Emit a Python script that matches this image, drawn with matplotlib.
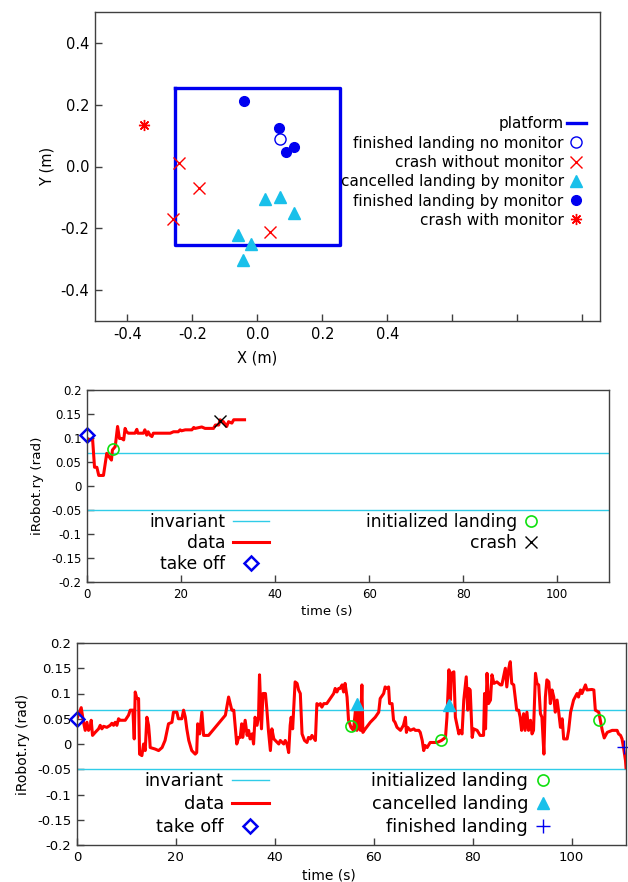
import matplotlib
matplotlib.use("Agg")
import matplotlib.pyplot as plt
from matplotlib.ticker import FixedLocator, FixedFormatter

plt.rcParams["font.family"] = ["DejaVu Sans"]
plt.rcParams["axes.unicode_minus"] = False

# ---- panel 1: landing positions (m) ----
platform_x = [-0.255, 0.255, 0.255, -0.255, -0.255]
platform_y = [0.255, 0.255, -0.255, -0.255, 0.255]
fin_nomon_x = [0.070]
fin_nomon_y = [0.089]
crash_nomon_x = [-0.240, -0.181, -0.261, 0.040]
crash_nomon_y = [0.011, -0.071, -0.171, -0.212]
cancel_mon_x = [0.023, 0.071, 0.112, -0.059, -0.020, -0.044]
cancel_mon_y = [-0.106, -0.100, -0.149, -0.221, -0.252, -0.301]
fin_mon_x = [-0.041, 0.067, 0.088, 0.112]
fin_mon_y = [0.211, 0.123, 0.047, 0.062]
crash_mon_x = [-0.348]
crash_mon_y = [0.133]

# ---- panel 2: run without monitor ----
inv_hi = 0.068
inv_lo = -0.05
t1 = [0.0, 0.3, 1.2, 1.6, 2.1, 2.5, 3.5, 4.2, 4.7, 5.2, 5.4, 6.0, 6.5, 6.9,
      7.4, 7.8, 8.1, 8.4, 8.8, 10.2, 10.6, 10.8, 12.0, 12.3, 12.7, 13.0, 13.4,
      13.8, 14.1, 14.8, 16.6, 17.7, 18.4, 19.4, 19.8, 20.1, 20.9, 22.3, 22.7,
      23.0, 24.4, 25.1, 26.9, 27.3, 28.0, 28.3, 29.0, 29.7, 30.1, 30.8, 31.2,
      32.2, 33.5]
y1 = [0.100, 0.096, 0.096, 0.039, 0.039, 0.022, 0.022, 0.068, 0.061, 0.054,
      0.075, 0.082, 0.124, 0.099, 0.099, 0.096, 0.120, 0.113, 0.110, 0.110,
      0.118, 0.110, 0.110, 0.117, 0.106, 0.113, 0.106, 0.103, 0.110, 0.110,
      0.110, 0.110, 0.113, 0.113, 0.117, 0.115, 0.117, 0.117, 0.122, 0.120,
      0.123, 0.120, 0.120, 0.127, 0.127, 0.138, 0.134, 0.124, 0.134, 0.131,
      0.138, 0.138, 0.138]
takeoff1 = (0.0, 0.106)
init1 = (5.6, 0.077)
crash1 = (28.3, 0.135)

# ---- panel 3: run with monitor ----
t2 = [0.0, 0.85, 1.32, 1.66, 2.0, 2.33, 2.67, 2.87, 3.14, 3.68, 4.36, 4.69,
      5.03, 5.37, 6.04, 6.71, 7.05, 7.39, 7.73, 8.06, 8.40, 8.74, 9.75, 10.42,
      10.76, 11.3, 11.57, 11.77, 12.1, 12.45, 12.65, 13.12, 13.46, 13.79,
      14.13, 14.47, 14.67, 14.8, 15.8, 16.5, 17.2, 17.8, 18.5, 19.2, 19.5,
      20.2, 20.5, 21.2, 21.55, 21.9, 22.2, 22.6, 23.2, 23.9, 24.2, 24.4, 24.8,
      25.25, 25.6, 26.6, 30.0, 30.65, 31.3, 31.7, 32.0, 32.3, 32.7, 33.0,
      33.3, 33.5, 34.0, 34.4, 34.7, 35.0, 35.4, 35.7, 36.0, 36.4, 36.7, 36.9,
      37.3, 37.6, 38.1, 38.4, 38.7, 39.1, 39.4, 39.8, 40.1, 40.8, 41.1, 41.8,
      42.1, 42.45, 42.8, 43.1, 43.3, 43.6, 44.1, 44.5, 44.8, 45.15, 45.5,
      46.0, 46.5, 46.8, 47.2, 47.5, 48.2, 48.5, 48.9, 49.2, 49.5, 49.9, 50.5,
      51.2, 51.9, 52.2, 52.55, 52.9, 53.2, 53.6, 53.9, 54.2, 54.6, 54.9, 55.4,
      55.9, 56.3, 56.6, 56.9, 57.3, 57.6, 57.8, 58.3, 59.3, 60.3, 61.0, 61.3,
      62.0, 62.3, 62.7, 63.0, 63.2, 63.7, 64.0, 64.3, 64.7, 65.4, 66.0, 66.4,
      66.6, 66.85, 67.4, 68.1, 68.4, 69.1, 69.4, 69.8, 70.1, 70.4, 70.8, 71.4,
      72.8, 73.7, 74.5, 74.8, 75.2, 75.5, 75.7, 76.2, 76.5, 77.2, 77.5, 77.85,
      78.2, 78.7, 79.0, 79.2, 79.5, 79.9, 80.2, 80.9, 81.5, 82.2, 82.4, 82.6,
      82.9, 83.2, 83.6, 83.9, 84.3, 84.9, 85.6, 85.9, 86.6, 86.9, 87.3, 87.6,
      87.9, 88.3, 88.9, 89.3, 89.6, 89.9, 90.3, 90.6, 90.97, 91.3, 91.7, 92.0,
      92.3, 92.7, 93.0, 93.35, 93.7, 94.0, 94.4, 94.7, 95.0, 95.4, 95.7, 96.05,
      96.4, 96.7, 97.07, 97.4, 97.75, 98.1, 98.4, 99.1, 99.4, 99.8, 100.4,
      101.1, 101.4, 101.8, 102.1, 102.8, 103.1, 104.1, 104.5, 104.8, 105.5,
      106.2, 106.6, 107.2, 108.2, 109.2, 109.5, 109.9, 110.2, 110.5, 110.9,
      111.0]
y2 = [0.050, 0.072, 0.043, 0.027, 0.043, 0.027, 0.033, 0.047, 0.017, 0.023,
      0.030, 0.037, 0.030, 0.035, 0.033, 0.037, 0.041, 0.037, 0.043, 0.037,
      0.050, 0.047, 0.047, 0.057, 0.067, 0.067, 0.010, 0.103, 0.090, 0.090,
      -0.020, -0.023, 0.000, -0.013, 0.053, 0.037, 0.013, -0.007, -0.010,
      -0.013, -0.007, 0.007, 0.040, 0.043, 0.063, 0.063, 0.050, 0.050, 0.067,
      0.053, 0.030, 0.007, -0.013, -0.020, -0.017, 0.040, 0.020, 0.063, 0.017,
      0.017, 0.057, 0.093, 0.067, 0.067, 0.033, 0.000, 0.013, 0.013, 0.040,
      0.013, 0.047, 0.017, 0.027, 0.010, 0.020, 0.000, 0.053, 0.037, 0.053,
      0.137, 0.030, 0.100, 0.100, 0.067, 0.027, -0.013, 0.030, 0.010, 0.007,
      0.000, 0.007, 0.000, 0.007, 0.000, -0.017, 0.037, 0.053, 0.030, 0.123,
      0.120, 0.107, 0.100, 0.020, 0.007, 0.003, 0.013, 0.010, 0.017, 0.007,
      0.080, 0.077, 0.080, 0.073, 0.080, 0.080, 0.090, 0.100, 0.110, 0.103,
      0.110, 0.110, 0.117, 0.103, 0.120, 0.093, 0.047, 0.033, 0.027, 0.067,
      0.027, 0.067, 0.027, 0.117, 0.023, 0.030, 0.043, 0.053, 0.063, 0.090,
      0.100, 0.113, 0.110, 0.113, 0.080, 0.080, 0.047, 0.043, 0.033, 0.027,
      0.037, 0.053, 0.023, 0.033, 0.027, 0.030, 0.027, 0.027, 0.023, 0.007,
      -0.013, -0.003, -0.007, 0.003, 0.003, 0.007, 0.013, 0.053, 0.147, 0.087,
      0.140, 0.143, 0.053, 0.020, 0.027, 0.020, 0.087, 0.133, 0.067, 0.110,
      0.107, 0.013, 0.030, 0.027, 0.017, 0.017, 0.100, 0.030, 0.140, 0.080,
      0.087, 0.137, 0.120, 0.123, 0.117, 0.117, 0.150, 0.113, 0.150, 0.163,
      0.120, 0.117, 0.067, 0.067, 0.053, 0.027, 0.060, 0.027, 0.063, 0.027,
      0.047, 0.020, 0.027, 0.140, 0.120, 0.117, 0.060, 0.053, -0.020, 0.093,
      0.127, 0.123, 0.080, 0.107, 0.093, 0.063, 0.087, 0.063, 0.033, 0.050,
      0.010, 0.010, 0.027, 0.063, 0.087, 0.100, 0.093, 0.107, 0.100, 0.117,
      0.107, 0.108, 0.107, 0.067, 0.063, 0.027, 0.012, 0.023, 0.027, 0.027,
      0.020, 0.017, 0.010, -0.007, -0.033, -0.047]
takeoff2 = (0.0, 0.050)
init2_t = [55.4, 73.6, 105.6]
init2_y = [0.036, 0.008, 0.048]
cancel2_t = [56.6, 75.2]
cancel2_y = [0.080, 0.078]
finish2 = (110.6, -0.006)

ry_ticks = [-0.2, -0.15, -0.1, -0.05, 0, 0.05, 0.1, 0.15, 0.2]
ry_labels = ["-0.2", "-0.15", "-0.1", "-0.05", "0", "0.05", "0.1", "0.15", "0.2"]
t_ticks = [0, 20, 40, 60, 80, 100]

BLUE = "#0000f0"
RED = "#ff0000"
CYAN = "#19c0ea"
INV = "#30cce8"
GREEN = "#10e010"
FRAME = "#404040"

W, H = 628, 882
fig = plt.figure(figsize=(W / 100, H / 100), dpi=100)


def box(l, t, r, b):
    return fig.add_axes([l / W, 1 - b / H, (r - l) / W, (b - t) / H])


def style(ax, fs):
    for s in ax.spines.values():
        s.set_color(FRAME)
        s.set_linewidth(1.0)
    ax.tick_params(direction="in", length=5, width=1, color=FRAME,
                   labelsize=fs, top=False, right=False, pad=4)


# ---------- panel 1 ----------
ax1 = box(95, 12, 600, 321)
style(ax1, 10.5)
ax1.plot(platform_x, platform_y, color=BLUE, lw=2.4, label="platform")
ax1.plot(fin_nomon_x, fin_nomon_y, ls="none", marker="o", ms=8, mfc="none",
         mec=BLUE, mew=1.0, label="finished landing no monitor")
ax1.plot(crash_nomon_x, crash_nomon_y, ls="none", marker="x", ms=8, mec=RED,
         mew=1.0, label="crash without monitor")
ax1.plot(cancel_mon_x, cancel_mon_y, ls="none", marker="^", ms=8, color=CYAN,
         label="cancelled landing by monitor")
ax1.plot(fin_mon_x, fin_mon_y, ls="none", marker="o", ms=7, color=BLUE,
         label="finished landing by monitor")
ax1.plot(crash_mon_x, crash_mon_y, ls="none", marker=(8, 2, 0), ms=8, mec=RED,
         mew=1.0, label="crash with monitor")
ax1.set_xlim(-0.5, 1.055)
ax1.set_ylim(-0.5, 0.5)
xt = [-0.4, -0.2, 0.0, 0.2, 0.4, 0.6, 0.8, 1.0]
ax1.xaxis.set_major_locator(FixedLocator(xt))
ax1.xaxis.set_major_formatter(FixedFormatter(["-0.4", "-0.2", "0.0", "0.2", "0.4", "", "", ""]))
ax1.yaxis.set_major_locator(FixedLocator([-0.4, -0.2, 0.0, 0.2, 0.4]))
ax1.yaxis.set_major_formatter(FixedFormatter(["-0.4", "-0.2", "0.0", "0.2", "0.4"]))
ax1.text(0.0, -0.62, "X (m)", ha="center", va="center", fontsize=10.5,
         transform=ax1.transData, clip_on=False)
ax1.set_ylabel("Y (m)", fontsize=10.5, labelpad=4)
ax1.legend(loc="upper right", bbox_to_anchor=(0.972, 0.662), frameon=False,
           markerfirst=False, alignment="right", fontsize=11, borderpad=0,
           borderaxespad=0, handlelength=1.25, handletextpad=0.2,
           labelspacing=0.28, numpoints=1)


def ry_axes(ax, fs_tick, fs_lab):
    style(ax, fs_tick)
    ax.axhline(inv_hi, color=INV, lw=1.0, label="invariant")
    ax.axhline(inv_lo, color=INV, lw=1.0)
    ax.set_xlim(0, 111)
    ax.set_ylim(-0.2, 0.2)
    ax.yaxis.set_major_locator(FixedLocator(ry_ticks))
    ax.yaxis.set_major_formatter(FixedFormatter(ry_labels))
    ax.xaxis.set_major_locator(FixedLocator(t_ticks))
    ax.set_ylabel("iRobot.ry (rad)", fontsize=fs_lab, labelpad=5)


# ---------- panel 2 ----------
ax2 = box(87, 390, 609, 582)
ry_axes(ax2, 8.5, 9.7)
ax2.plot(t1, y1, color=RED, lw=2.2, label="data")
ax2.plot([takeoff1[0]], [takeoff1[1]], ls="none", marker="D", ms=7.5,
         mfc="none", mec=BLUE, mew=1.8, clip_on=False, label="take off")
h_init1, = ax2.plot([init1[0]], [init1[1]], ls="none", marker="o", ms=8,
                    mfc="none", mec=GREEN, mew=1.2, label="initialized landing")
h_crash1, = ax2.plot([crash1[0]], [crash1[1]], ls="none", marker="x", ms=9,
                     mec="black", mew=1.0, label="crash")
ax2.text(51, -0.262, "time (s)", ha="center", va="center", fontsize=9.5,
         transform=ax2.transData, clip_on=False)
h, l = ax2.get_legend_handles_labels()
lg = ax2.legend(h[:3], l[:3], loc="upper right", bbox_to_anchor=(0.349, 0.358),
                frameon=False, markerfirst=False, alignment="right",
                fontsize=12.3, borderpad=0, borderaxespad=0, handlelength=2.1,
                handletextpad=0.45, labelspacing=0.18, numpoints=1)
ax2.add_artist(lg)
ax2.legend([h_init1, h_crash1], ["initialized landing", "crash"],
           loc="upper right", bbox_to_anchor=(0.864, 0.358), frameon=False,
           markerfirst=False, alignment="right", fontsize=12.3, borderpad=0,
           borderaxespad=0, handlelength=0.8, handletextpad=0.45,
           labelspacing=0.18, numpoints=1)

# ---------- panel 3 ----------
ax3 = box(77, 643, 626, 845)
ry_axes(ax3, 9.5, 10)
ax3.plot(t2, y2, color=RED, lw=2.2, label="data")
ax3.plot([takeoff2[0]], [takeoff2[1]], ls="none", marker="D", ms=7.5,
         mfc="none", mec=BLUE, mew=1.8, clip_on=False, label="take off")
h_init2, = ax3.plot(init2_t, init2_y, ls="none", marker="o", ms=8,
                    mfc="none", mec=GREEN, mew=1.2)
h_canc2, = ax3.plot(cancel2_t, cancel2_y, ls="none", marker="^", ms=9,
                    color=CYAN)
h_fin2, = ax3.plot([finish2[0]], [finish2[1]], ls="none", marker="+", ms=10,
                   mec=BLUE, mew=1.0, clip_on=False)
ax3.text(51, -0.26, "time (s)", ha="center", va="center", fontsize=10,
         transform=ax3.transData, clip_on=False)
h, l = ax3.get_legend_handles_labels()
lg = ax3.legend(h[:3], l[:3], loc="upper right", bbox_to_anchor=(0.350, 0.361),
                frameon=False, markerfirst=False, alignment="right",
                fontsize=12.8, borderpad=0, borderaxespad=0, handlelength=2.1,
                handletextpad=0.45, labelspacing=0.28, numpoints=1)
ax3.add_artist(lg)
ax3.legend([h_init2, h_canc2, h_fin2],
           ["initialized landing", "cancelled landing", "finished landing"],
           loc="upper right", bbox_to_anchor=(0.862, 0.361), frameon=False,
           markerfirst=False, alignment="right", fontsize=12.8, borderpad=0,
           borderaxespad=0, handlelength=0.8, handletextpad=0.45,
           labelspacing=0.28, numpoints=1)

fig.savefig("out.png", dpi=100, facecolor="white")
